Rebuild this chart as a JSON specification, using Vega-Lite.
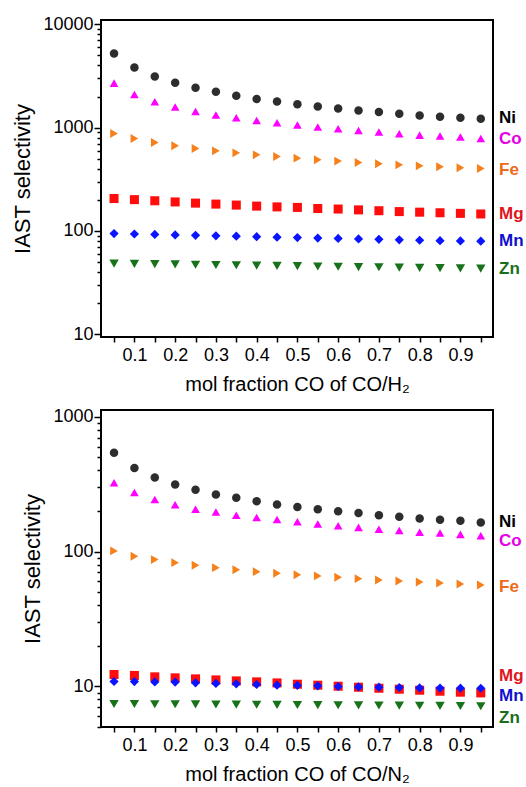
{
  "$schema": "https://vega.github.io/schema/vega-lite/v6.json",
  "padding": {"left": 10, "top": 14, "right": 2, "bottom": 2},
  "background": "white",
  "config": {
    "font": "Liberation Sans",
    "view": {"stroke": "black", "strokeWidth": 2},
    "axis": {"domain": false, "grid": false, "tickColor": "black", "tickWidth": 1.5, "labelColor": "black", "labelFontSize": 18, "titleFontSize": 20, "titleFontWeight": "normal", "titleColor": "black", "labelFont": "Liberation Sans", "titleFont": "Liberation Sans", "labelOverlap": false, "labelFlush": false, "tickCount": 200},
    "axisY": {"titleFontSize": 22}
  },
  "datasets": {
    "pts": [
      {"p":"H","m":"Ni","x":0.05,"s":5240},{"p":"H","m":"Ni","x":0.1,"s":3830},{"p":"H","m":"Ni","x":0.15,"s":3130},{"p":"H","m":"Ni","x":0.2,"s":2720},{"p":"H","m":"Ni","x":0.25,"s":2440},{"p":"H","m":"Ni","x":0.3,"s":2230},{"p":"H","m":"Ni","x":0.35,"s":2040},{"p":"H","m":"Ni","x":0.4,"s":1900},{"p":"H","m":"Ni","x":0.45,"s":1790},{"p":"H","m":"Ni","x":0.5,"s":1690},{"p":"H","m":"Ni","x":0.55,"s":1600},{"p":"H","m":"Ni","x":0.6,"s":1535},{"p":"H","m":"Ni","x":0.65,"s":1468},{"p":"H","m":"Ni","x":0.7,"s":1416},{"p":"H","m":"Ni","x":0.75,"s":1364},{"p":"H","m":"Ni","x":0.8,"s":1313},{"p":"H","m":"Ni","x":0.85,"s":1276},{"p":"H","m":"Ni","x":0.9,"s":1247},{"p":"H","m":"Ni","x":0.95,"s":1219},
      {"p":"H","m":"Co","x":0.05,"s":2700},{"p":"H","m":"Co","x":0.1,"s":2100},{"p":"H","m":"Co","x":0.15,"s":1780},{"p":"H","m":"Co","x":0.2,"s":1585},{"p":"H","m":"Co","x":0.25,"s":1436},{"p":"H","m":"Co","x":0.3,"s":1324},{"p":"H","m":"Co","x":0.35,"s":1247},{"p":"H","m":"Co","x":0.4,"s":1175},{"p":"H","m":"Co","x":0.45,"s":1115},{"p":"H","m":"Co","x":0.5,"s":1059},{"p":"H","m":"Co","x":0.55,"s":1013},{"p":"H","m":"Co","x":0.6,"s":976},{"p":"H","m":"Co","x":0.65,"s":939},{"p":"H","m":"Co","x":0.7,"s":906},{"p":"H","m":"Co","x":0.75,"s":873},{"p":"H","m":"Co","x":0.8,"s":847},{"p":"H","m":"Co","x":0.85,"s":830},{"p":"H","m":"Co","x":0.9,"s":811},{"p":"H","m":"Co","x":0.95,"s":786},
      {"p":"H","m":"Fe","x":0.05,"s":879},{"p":"H","m":"Fe","x":0.1,"s":786},{"p":"H","m":"Fe","x":0.15,"s":719},{"p":"H","m":"Fe","x":0.2,"s":668},{"p":"H","m":"Fe","x":0.25,"s":629},{"p":"H","m":"Fe","x":0.3,"s":597},{"p":"H","m":"Fe","x":0.35,"s":571},{"p":"H","m":"Fe","x":0.4,"s":546},{"p":"H","m":"Fe","x":0.45,"s":526},{"p":"H","m":"Fe","x":0.5,"s":507},{"p":"H","m":"Fe","x":0.55,"s":489},{"p":"H","m":"Fe","x":0.6,"s":475},{"p":"H","m":"Fe","x":0.65,"s":460},{"p":"H","m":"Fe","x":0.7,"s":447},{"p":"H","m":"Fe","x":0.75,"s":437},{"p":"H","m":"Fe","x":0.8,"s":427},{"p":"H","m":"Fe","x":0.85,"s":418},{"p":"H","m":"Fe","x":0.9,"s":409},{"p":"H","m":"Fe","x":0.95,"s":402},
      {"p":"H","m":"Mg","x":0.05,"s":206},{"p":"H","m":"Mg","x":0.1,"s":201},{"p":"H","m":"Mg","x":0.15,"s":196},{"p":"H","m":"Mg","x":0.2,"s":191},{"p":"H","m":"Mg","x":0.25,"s":186},{"p":"H","m":"Mg","x":0.3,"s":182},{"p":"H","m":"Mg","x":0.35,"s":178},{"p":"H","m":"Mg","x":0.4,"s":174},{"p":"H","m":"Mg","x":0.45,"s":171},{"p":"H","m":"Mg","x":0.5,"s":169},{"p":"H","m":"Mg","x":0.55,"s":165},{"p":"H","m":"Mg","x":0.6,"s":163},{"p":"H","m":"Mg","x":0.65,"s":160},{"p":"H","m":"Mg","x":0.7,"s":157},{"p":"H","m":"Mg","x":0.75,"s":154},{"p":"H","m":"Mg","x":0.8,"s":152},{"p":"H","m":"Mg","x":0.85,"s":150},{"p":"H","m":"Mg","x":0.9,"s":148},{"p":"H","m":"Mg","x":0.95,"s":146},
      {"p":"H","m":"Mn","x":0.05,"s":94.4},{"p":"H","m":"Mn","x":0.1,"s":93.4},{"p":"H","m":"Mn","x":0.15,"s":92.5},{"p":"H","m":"Mn","x":0.2,"s":91.6},{"p":"H","m":"Mn","x":0.25,"s":90.7},{"p":"H","m":"Mn","x":0.3,"s":89.8},{"p":"H","m":"Mn","x":0.35,"s":88.9},{"p":"H","m":"Mn","x":0.4,"s":88.0},{"p":"H","m":"Mn","x":0.45,"s":87.1},{"p":"H","m":"Mn","x":0.5,"s":86.3},{"p":"H","m":"Mn","x":0.55,"s":85.4},{"p":"H","m":"Mn","x":0.6,"s":84.6},{"p":"H","m":"Mn","x":0.65,"s":83.7},{"p":"H","m":"Mn","x":0.7,"s":82.9},{"p":"H","m":"Mn","x":0.75,"s":82.1},{"p":"H","m":"Mn","x":0.8,"s":81.3},{"p":"H","m":"Mn","x":0.85,"s":80.5},{"p":"H","m":"Mn","x":0.9,"s":80.0},{"p":"H","m":"Mn","x":0.95,"s":79.6},
      {"p":"H","m":"Zn","x":0.05,"s":48.3},{"p":"H","m":"Zn","x":0.1,"s":48.0},{"p":"H","m":"Zn","x":0.15,"s":47.7},{"p":"H","m":"Zn","x":0.2,"s":47.4},{"p":"H","m":"Zn","x":0.25,"s":47.1},{"p":"H","m":"Zn","x":0.3,"s":46.8},{"p":"H","m":"Zn","x":0.35,"s":46.5},{"p":"H","m":"Zn","x":0.4,"s":46.2},{"p":"H","m":"Zn","x":0.45,"s":45.9},{"p":"H","m":"Zn","x":0.5,"s":45.6},{"p":"H","m":"Zn","x":0.55,"s":45.3},{"p":"H","m":"Zn","x":0.6,"s":45.0},{"p":"H","m":"Zn","x":0.65,"s":44.7},{"p":"H","m":"Zn","x":0.7,"s":44.5},{"p":"H","m":"Zn","x":0.75,"s":44.2},{"p":"H","m":"Zn","x":0.8,"s":43.9},{"p":"H","m":"Zn","x":0.85,"s":43.7},{"p":"H","m":"Zn","x":0.9,"s":43.4},{"p":"H","m":"Zn","x":0.95,"s":43.2},
      {"p":"N","m":"Ni","x":0.05,"s":540},{"p":"N","m":"Ni","x":0.1,"s":416},{"p":"N","m":"Ni","x":0.15,"s":354},{"p":"N","m":"Ni","x":0.2,"s":314},{"p":"N","m":"Ni","x":0.25,"s":287},{"p":"N","m":"Ni","x":0.3,"s":265},{"p":"N","m":"Ni","x":0.35,"s":250},{"p":"N","m":"Ni","x":0.4,"s":236},{"p":"N","m":"Ni","x":0.45,"s":223},{"p":"N","m":"Ni","x":0.5,"s":214},{"p":"N","m":"Ni","x":0.55,"s":206},{"p":"N","m":"Ni","x":0.6,"s":199},{"p":"N","m":"Ni","x":0.65,"s":193},{"p":"N","m":"Ni","x":0.7,"s":186},{"p":"N","m":"Ni","x":0.75,"s":181},{"p":"N","m":"Ni","x":0.8,"s":176},{"p":"N","m":"Ni","x":0.85,"s":172},{"p":"N","m":"Ni","x":0.9,"s":169},{"p":"N","m":"Ni","x":0.95,"s":164},
      {"p":"N","m":"Co","x":0.05,"s":323},{"p":"N","m":"Co","x":0.1,"s":274},{"p":"N","m":"Co","x":0.15,"s":243},{"p":"N","m":"Co","x":0.2,"s":222},{"p":"N","m":"Co","x":0.25,"s":206},{"p":"N","m":"Co","x":0.3,"s":196},{"p":"N","m":"Co","x":0.35,"s":186},{"p":"N","m":"Co","x":0.4,"s":179},{"p":"N","m":"Co","x":0.45,"s":173},{"p":"N","m":"Co","x":0.5,"s":166},{"p":"N","m":"Co","x":0.55,"s":160},{"p":"N","m":"Co","x":0.6,"s":155},{"p":"N","m":"Co","x":0.65,"s":151},{"p":"N","m":"Co","x":0.7,"s":146},{"p":"N","m":"Co","x":0.75,"s":143},{"p":"N","m":"Co","x":0.8,"s":139},{"p":"N","m":"Co","x":0.85,"s":137},{"p":"N","m":"Co","x":0.9,"s":134},{"p":"N","m":"Co","x":0.95,"s":131},
      {"p":"N","m":"Fe","x":0.05,"s":101},{"p":"N","m":"Fe","x":0.1,"s":92.2},{"p":"N","m":"Fe","x":0.15,"s":87.1},{"p":"N","m":"Fe","x":0.2,"s":82.7},{"p":"N","m":"Fe","x":0.25,"s":79.1},{"p":"N","m":"Fe","x":0.3,"s":75.9},{"p":"N","m":"Fe","x":0.35,"s":73.3},{"p":"N","m":"Fe","x":0.4,"s":70.9},{"p":"N","m":"Fe","x":0.45,"s":69.0},{"p":"N","m":"Fe","x":0.5,"s":67.3},{"p":"N","m":"Fe","x":0.55,"s":65.9},{"p":"N","m":"Fe","x":0.6,"s":64.4},{"p":"N","m":"Fe","x":0.65,"s":62.9},{"p":"N","m":"Fe","x":0.7,"s":61.5},{"p":"N","m":"Fe","x":0.75,"s":60.4},{"p":"N","m":"Fe","x":0.8,"s":59.4},{"p":"N","m":"Fe","x":0.85,"s":58.4},{"p":"N","m":"Fe","x":0.9,"s":57.4},{"p":"N","m":"Fe","x":0.95,"s":56.5},
      {"p":"N","m":"Mg","x":0.05,"s":12.25},{"p":"N","m":"Mg","x":0.1,"s":12.05},{"p":"N","m":"Mg","x":0.15,"s":11.77},{"p":"N","m":"Mg","x":0.2,"s":11.57},{"p":"N","m":"Mg","x":0.25,"s":11.37},{"p":"N","m":"Mg","x":0.3,"s":11.17},{"p":"N","m":"Mg","x":0.35,"s":10.98},{"p":"N","m":"Mg","x":0.4,"s":10.8},{"p":"N","m":"Mg","x":0.45,"s":10.61},{"p":"N","m":"Mg","x":0.5,"s":10.38},{"p":"N","m":"Mg","x":0.55,"s":10.21},{"p":"N","m":"Mg","x":0.6,"s":10.03},{"p":"N","m":"Mg","x":0.65,"s":9.86},{"p":"N","m":"Mg","x":0.7,"s":9.69},{"p":"N","m":"Mg","x":0.75,"s":9.53},{"p":"N","m":"Mg","x":0.8,"s":9.37},{"p":"N","m":"Mg","x":0.85,"s":9.21},{"p":"N","m":"Mg","x":0.9,"s":9.06},{"p":"N","m":"Mg","x":0.95,"s":8.95},
      {"p":"N","m":"Mn","x":0.05,"s":10.87},{"p":"N","m":"Mn","x":0.1,"s":10.85},{"p":"N","m":"Mn","x":0.15,"s":10.8},{"p":"N","m":"Mn","x":0.2,"s":10.76},{"p":"N","m":"Mn","x":0.25,"s":10.62},{"p":"N","m":"Mn","x":0.3,"s":10.52},{"p":"N","m":"Mn","x":0.35,"s":10.45},{"p":"N","m":"Mn","x":0.4,"s":10.33},{"p":"N","m":"Mn","x":0.45,"s":10.21},{"p":"N","m":"Mn","x":0.5,"s":10.16},{"p":"N","m":"Mn","x":0.55,"s":10.09},{"p":"N","m":"Mn","x":0.6,"s":9.98},{"p":"N","m":"Mn","x":0.65,"s":9.91},{"p":"N","m":"Mn","x":0.7,"s":9.86},{"p":"N","m":"Mn","x":0.75,"s":9.81},{"p":"N","m":"Mn","x":0.8,"s":9.75},{"p":"N","m":"Mn","x":0.85,"s":9.72},{"p":"N","m":"Mn","x":0.9,"s":9.7},{"p":"N","m":"Mn","x":0.95,"s":9.69},
      {"p":"N","m":"Zn","x":0.05,"s":7.41},{"p":"N","m":"Zn","x":0.1,"s":7.4},{"p":"N","m":"Zn","x":0.15,"s":7.38},{"p":"N","m":"Zn","x":0.2,"s":7.37},{"p":"N","m":"Zn","x":0.25,"s":7.35},{"p":"N","m":"Zn","x":0.3,"s":7.34},{"p":"N","m":"Zn","x":0.35,"s":7.32},{"p":"N","m":"Zn","x":0.4,"s":7.31},{"p":"N","m":"Zn","x":0.45,"s":7.29},{"p":"N","m":"Zn","x":0.5,"s":7.28},{"p":"N","m":"Zn","x":0.55,"s":7.26},{"p":"N","m":"Zn","x":0.6,"s":7.25},{"p":"N","m":"Zn","x":0.65,"s":7.23},{"p":"N","m":"Zn","x":0.7,"s":7.22},{"p":"N","m":"Zn","x":0.75,"s":7.2},{"p":"N","m":"Zn","x":0.8,"s":7.19},{"p":"N","m":"Zn","x":0.85,"s":7.17},{"p":"N","m":"Zn","x":0.9,"s":7.15},{"p":"N","m":"Zn","x":0.95,"s":7.13}
    ],
    "labs": [
      {"p":"H","m":"Ni","v":1228},{"p":"H","m":"Co","v":776},{"p":"H","m":"Fe","v":393},{"p":"H","m":"Mg","v":147.5},{"p":"H","m":"Mn","v":79.6},{"p":"H","m":"Zn","v":43.2},
      {"p":"N","m":"Ni","v":166},{"p":"N","m":"Co","v":120},{"p":"N","m":"Fe","v":54.6},{"p":"N","m":"Mg","v":11.85},{"p":"N","m":"Mn","v":8.55},{"p":"N","m":"Zn","v":5.8}
    ]
  },
  "spacing": 73,
  "bounds": "flush",
  "vconcat": [
    {
      "width": 392,
      "height": 317,
      "resolve": {"scale": {"color": "independent"}},
      "layer": [
        {
          "data": {"name": "pts"},
          "transform": [{"filter": "datum.p == 'H'"}],
          "mark": {"type": "point", "filled": true, "opacity": 1, "strokeWidth": 0},
          "encoding": {
            "x": {"field": "x", "type": "quantitative", "scale": {"domain": [0.018, 0.98], "nice": false, "zero": false},
              "axis": {"title": "mol fraction CO of CO/H₂", "values": [0.05,0.1,0.15,0.2,0.25,0.3,0.35,0.4,0.45,0.5,0.55,0.6,0.65,0.7,0.75,0.8,0.85,0.9,0.95], "labelExpr": "abs(datum.value*10 - round(datum.value*10)) < 0.001 ? format(datum.value, '.1f') : ''", "tickSize": 5, "labelPadding": 4, "titlePadding": 10}},
            "y": {"field": "s", "type": "quantitative", "scale": {"type": "log", "domain": [9.4, 11030], "nice": false},
              "axis": {"title": "IAST selectivity", "values": [10,20,30,40,50,60,70,80,90,100,200,300,400,500,600,700,800,900,1000,2000,3000,4000,5000,6000,7000,8000,9000,10000], "labelExpr": "abs(log(datum.value)/LN10 - round(log(datum.value)/LN10)) < 0.001 ? format(datum.value, 'd') : ''", "tickSize": {"condition": {"test": "abs(log(datum.value)/LN10 - round(log(datum.value)/LN10)) < 0.001", "value": 7}, "value": 4}, "labelPadding": 1, "titlePadding": 8}},
            "color": {"field": "m", "type": "nominal", "scale": {"domain": ["Ni","Co","Fe","Mg","Mn","Zn"], "range": ["#2d2d2d","#ff00ff","#f5801c","#ff0d0d","#0a14ff","#17721a"]}, "legend": null},
            "shape": {"field": "m", "type": "nominal", "scale": {"domain": ["Ni","Co","Fe","Mg","Mn","Zn"], "range": ["circle","triangle-up","triangle-right","square","diamond","triangle-down"]}, "legend": null},
            "size": {"field": "m", "type": "nominal", "scale": {"domain": ["Ni","Co","Fe","Mg","Mn","Zn"], "range": [72, 88, 78, 45, 70, 82]}, "legend": null}
          }
        },
        {
          "data": {"name": "labs"},
          "transform": [{"filter": "datum.p == 'H'"}],
          "mark": {"type": "text", "align": "left", "baseline": "middle", "dx": 6, "fontWeight": "bold", "fontSize": 17, "font": "Liberation Sans"},
          "encoding": {
            "x": {"datum": 0.98, "type": "quantitative"},
            "y": {"field": "v", "type": "quantitative"},
            "text": {"field": "m"},
            "color": {"field": "m", "type": "nominal", "scale": {"domain": ["Ni","Co","Fe","Mg","Mn","Zn"], "range": ["#000000","#e600e6","#ec6a1a","#e0141e","#1010d0","#1b6e1b"]}, "legend": null}
          }
        }
      ]
    },
    {
      "width": 392,
      "height": 317,
      "resolve": {"scale": {"color": "independent"}},
      "layer": [
        {
          "data": {"name": "pts"},
          "transform": [{"filter": "datum.p == 'N'"}],
          "mark": {"type": "point", "filled": true, "opacity": 1, "strokeWidth": 0},
          "encoding": {
            "x": {"field": "x", "type": "quantitative", "scale": {"domain": [0.018, 0.98], "nice": false, "zero": false},
              "axis": {"title": "mol fraction CO of CO/N₂", "values": [0.05,0.1,0.15,0.2,0.25,0.3,0.35,0.4,0.45,0.5,0.55,0.6,0.65,0.7,0.75,0.8,0.85,0.9,0.95], "labelExpr": "abs(datum.value*10 - round(datum.value*10)) < 0.001 ? format(datum.value, '.1f') : ''", "tickSize": 5, "labelPadding": 4, "titlePadding": 10}},
            "y": {"field": "s", "type": "quantitative", "scale": {"type": "log", "domain": [5, 1120], "nice": false},
              "axis": {"title": "IAST selectivity", "values": [5,6,7,8,9,10,20,30,40,50,60,70,80,90,100,200,300,400,500,600,700,800,900,1000], "labelExpr": "abs(log(datum.value)/LN10 - round(log(datum.value)/LN10)) < 0.001 ? format(datum.value, 'd') : ''", "tickSize": {"condition": {"test": "abs(log(datum.value)/LN10 - round(log(datum.value)/LN10)) < 0.001", "value": 7}, "value": 4}, "labelPadding": 1, "titlePadding": 8}},
            "color": {"field": "m", "type": "nominal", "scale": {"domain": ["Ni","Co","Fe","Mg","Mn","Zn"], "range": ["#2d2d2d","#ff00ff","#f5801c","#ff0d0d","#0a14ff","#17721a"]}, "legend": null},
            "shape": {"field": "m", "type": "nominal", "scale": {"domain": ["Ni","Co","Fe","Mg","Mn","Zn"], "range": ["circle","triangle-up","triangle-right","square","diamond","triangle-down"]}, "legend": null},
            "size": {"field": "m", "type": "nominal", "scale": {"domain": ["Ni","Co","Fe","Mg","Mn","Zn"], "range": [72, 88, 78, 45, 70, 82]}, "legend": null}
          }
        },
        {
          "data": {"name": "labs"},
          "transform": [{"filter": "datum.p == 'N'"}],
          "mark": {"type": "text", "align": "left", "baseline": "middle", "dx": 6, "fontWeight": "bold", "fontSize": 17, "font": "Liberation Sans"},
          "encoding": {
            "x": {"datum": 0.98, "type": "quantitative"},
            "y": {"field": "v", "type": "quantitative"},
            "text": {"field": "m"},
            "color": {"field": "m", "type": "nominal", "scale": {"domain": ["Ni","Co","Fe","Mg","Mn","Zn"], "range": ["#000000","#e600e6","#ec6a1a","#e0141e","#1010d0","#1b6e1b"]}, "legend": null}
          }
        }
      ]
    }
  ]
}
